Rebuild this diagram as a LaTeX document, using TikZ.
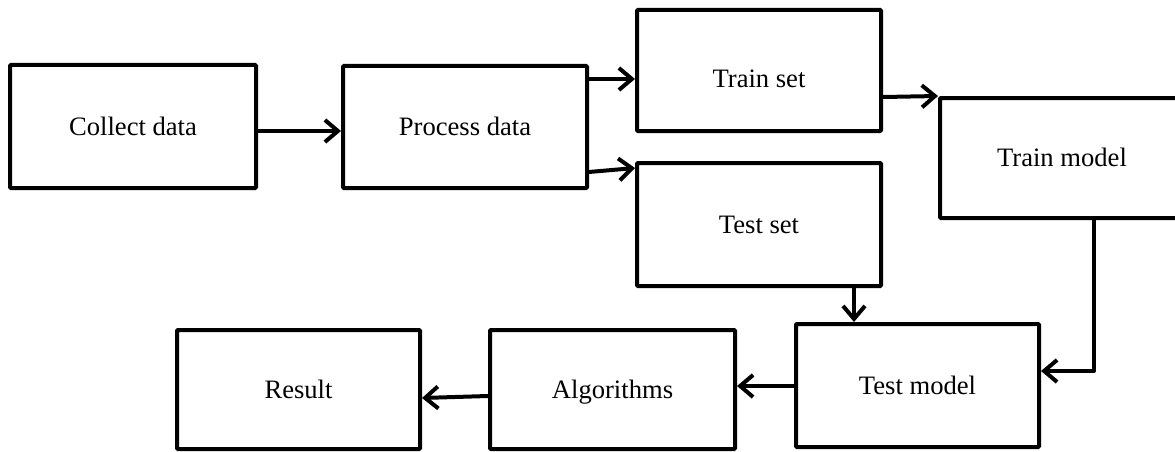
\documentclass[tikz,border=0pt]{standalone}
\usepackage{fontspec}
\setmainfont{Liberation Serif}
\usetikzlibrary{arrows.meta}
\tikzset{
  box/.style={draw=black, line width=4pt, rounded corners=1pt, fill=white,
    minimum width=244pt, minimum height=122pt, inner sep=0pt,
    font=\fontsize{26.6}{30}\selectfont, text height=23.6pt, text depth=6pt},
  lbl/.style={font=\fontsize{26.6}{30}\selectfont, inner sep=0pt, text height=23.6pt, text depth=6pt},
  conn/.style={line width=4pt, line cap=round, line join=round,
    -{Straight Barb[length=13pt,width=22pt,line width=4pt]}},
}
\begin{document}
\begin{tikzpicture}[x=1pt,y=-1pt]
\useasboundingbox (0,0) rectangle (1175,452);
\clip (0,0) rectangle (1175,452);
\fill[white] (0,0) rectangle (1175,452);
% boxes
\node[box, minimum width=246pt, minimum height=123pt] (collect) at (133,126.5) {Collect data};
\node[box] (process) at (465,127) {Process data};
\node[box, minimum height=121pt] (trainset) at (759,70.5) {};
\node[lbl] (trainsettext) at ([yshift=-8pt]trainset.center) {Train set};
\node[box, minimum height=123pt] (testset) at (759,224.5) {Test set};
\node[box, minimum height=120pt] (trainmodel) at (1062,158) {Train model};
\node[box, minimum width=243pt, minimum height=123pt] (testmodel) at (917.5,385.5) {Test model};
\node[box, minimum width=245pt, minimum height=119pt] (algorithms) at (612.5,389.5) {Algorithms};
\node[box, minimum width=243pt, minimum height=119pt] (result) at (298.5,389.5) {Result};
% connectors
\draw[conn] (collect.east |- 0,131) -- (process.west |- 0,131);
\draw[conn] (process.east |- 0,79) -- (trainset.west |- 0,79);
\draw[conn] (process.east |- 0,172) -- (testset.west |- 0,168);
\draw[conn] (trainset.east |- 0,97) -- (trainmodel.north west);
\draw[conn] (testset.south -| 854,0) -- (testmodel.north -| 854,0);
\draw[conn] (trainmodel.south -| 1094,0) |- (testmodel.east |- 0,371);
\draw[conn] (testmodel.west |- 0,386) -- (algorithms.east |- 0,386);
\draw[conn] (algorithms.west |- 0,396) -- (result.east |- 0,398);
\end{tikzpicture}
\end{document}
